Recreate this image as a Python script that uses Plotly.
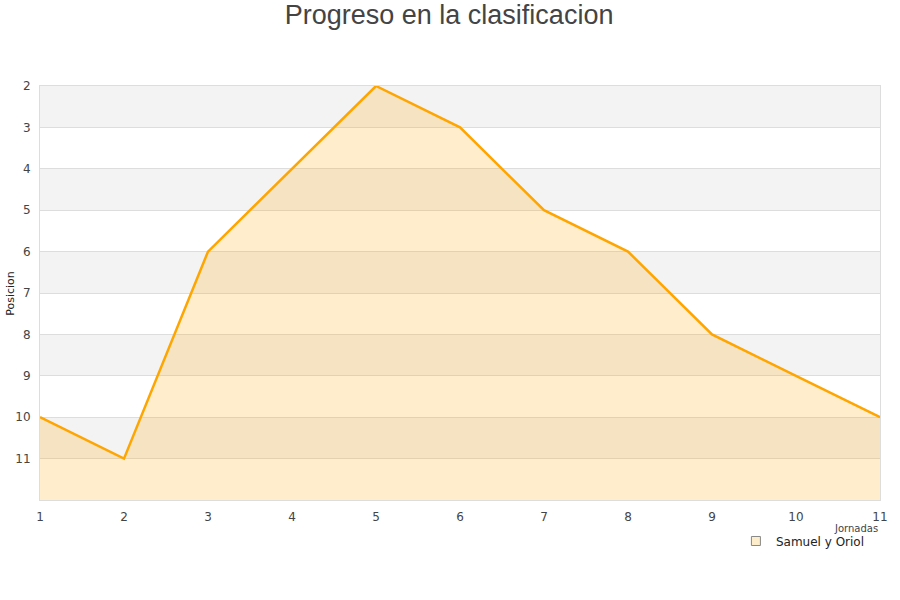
import plotly.graph_objects as go

jornadas = [1, 2, 3, 4, 5, 6, 7, 8, 9, 10, 11]
posicion = [10, 11, 6, 4, 2, 3, 5, 6, 8, 9, 10]
base = [12] * len(jornadas)
y_ticks = [2, 3, 4, 5, 6, 7, 8, 9, 10, 11]
equipo = "Samuel y Oriol"

fig = go.Figure()

# base line at the bottom so the area fills down to 12
fig.add_trace(go.Scatter(x=jornadas, y=base, mode='lines', line=dict(width=0),
                         showlegend=False, hoverinfo='skip'))
fig.add_trace(go.Scatter(x=jornadas, y=posicion, mode='lines', fill='tonexty',
                         fillcolor='rgba(255,165,0,0.2)',
                         line=dict(color='#FFA500', width=2.5),
                         name=equipo, showlegend=False))
# legend entry
fig.add_trace(go.Scatter(x=[None], y=[None], mode='markers', name=equipo,
                         marker=dict(symbol='square', size=9, color='#FEEDCB',
                                     line=dict(color='#888', width=1))))

# alternating grey bands
for y0 in y_ticks[::2]:
    fig.add_shape(type='rect', xref='paper', x0=0, x1=1, yref='y', y0=y0, y1=y0 + 1,
                  fillcolor='#F3F3F3', line=dict(width=0), layer='below')

fig.add_annotation(text="Jornadas", x=1.0, xref='paper', xanchor='right',
                   y=-0.068, yref='paper', yanchor='middle', showarrow=False,
                   font=dict(size=10, color='#444'))
fig.add_annotation(text="Posicion", textangle=-90, x=-0.036, xref='paper', xanchor='center',
                   y=0.5, yref='paper', yanchor='middle', showarrow=False,
                   font=dict(size=11, color='#222'))

fig.update_layout(
    width=900, height=600,
    title=dict(text="Progreso en la clasificacion", x=0.499, xanchor='center',
               yref='container', y=0.975, yanchor='middle',
               font=dict(family="Liberation Sans", size=27, color='#444')),
    font=dict(family="DejaVu Sans", size=12, color='#444'),
    plot_bgcolor='white', paper_bgcolor='white',
    margin=dict(l=40, r=20, t=86, b=100, autoexpand=False),
    legend=dict(x=0.988, xanchor='right', y=-0.064, yanchor='top',
                bgcolor='rgba(0,0,0,0)', font=dict(size=12, color='#222'),
                itemwidth=30),
)
fig.update_xaxes(range=[1, 11], tickvals=jornadas, showgrid=False, zeroline=False,
                 showline=True, linecolor='#DDD', mirror=True, ticks='',
                 ticklabelstandoff=6, automargin=False)
fig.update_yaxes(range=[12, 2], tickvals=y_ticks, gridcolor='#DDD', zeroline=False,
                 showline=True, linecolor='#DDD', mirror=True, ticks='',
                 ticklabelstandoff=6, automargin=False)

# drop the browser's default body margin so the figure sits at the page corner
fig.write_html("out.html", config={'displayModeBar': False},
               post_script="document.body.style.margin = '0';")
